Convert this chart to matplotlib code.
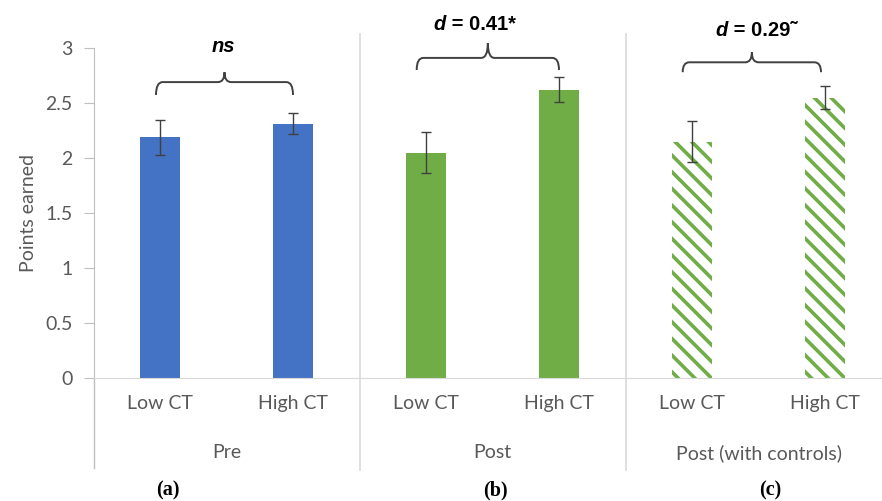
import matplotlib
matplotlib.use('Agg')
import matplotlib.pyplot as plt
import matplotlib.transforms as mtransforms
from matplotlib.path import Path
from matplotlib.patches import PathPatch

groups = ['Pre', 'Post', 'Post (with controls)']
conditions = ['Low CT', 'High CT']
means = [2.19, 2.31, 2.05, 2.62, 2.15, 2.55]
errors = [0.16, 0.095, 0.185, 0.115, 0.185, 0.105]
panel_labels = ['(a)', '(b)', '(c)']
effect_labels = [('', 'ns'), ('d', ' = 0.41*'), ('d', ' = 0.29\u02dc')]

blue = '#4472C4'
green = '#70AD47'
grey_text = '#595959'
line_grey = '#D9D9D9'

plt.rcParams['font.family'] = ['Lato', 'DejaVu Sans']
plt.rcParams['hatch.linewidth'] = 2.6

fig = plt.figure(figsize=(8.82, 5.01), dpi=100)
ax = fig.add_axes([93.5 / 882, 123 / 501, 798 / 882, 330 / 501])

x = list(range(len(means)))
colors = [blue, blue, green, green, 'white', 'white']
hatches = [None, None, None, None, '\\\\', '\\\\']
for xi, m, c, h in zip(x, means, colors, hatches):
    if h:
        ax.bar(xi, m, width=0.3, color='white', edgecolor=green, hatch=h, linewidth=0)
    else:
        ax.bar(xi, m, width=0.3, color=c, linewidth=0)
ax.errorbar(x, means, yerr=errors, fmt='none', ecolor='#404040', elinewidth=1,
            capsize=3.5, capthick=1)

ax.set_xlim(-0.5, 5.5)
ax.set_ylim(0, 3)
ax.set_yticks([0, 0.5, 1, 1.5, 2, 2.5, 3])
ax.set_yticklabels(['0', '0.5', '1', '1.5', '2', '2.5', '3'])
ax.set_xticks(x)
ax.set_xticklabels(conditions * 3)
ax.tick_params(axis='y', direction='out', length=7, color='#BFBFBF', labelcolor=grey_text,
               labelsize=14, pad=8)
ax.tick_params(axis='x', length=0, labelcolor=grey_text, labelsize=14, pad=12)
ax.set_ylabel('Points earned', color=grey_text, fontsize=14, labelpad=6)

for s in ['top', 'right']:
    ax.spines[s].set_visible(False)
ax.spines['left'].set_color('#BFBFBF')
ax.spines['bottom'].set_color(line_grey)

trans = mtransforms.blended_transform_factory(ax.transData, ax.transAxes)
# category separators below the axis, and panel separators through the plot
ax.plot([-0.5, -0.5], [0, -0.273], color='#BFBFBF', lw=1, transform=trans, clip_on=False)
for xs in [1.5, 3.5]:
    ax.plot([xs, xs], [-0.28, 1.042], color=line_grey, lw=1.2, transform=trans, clip_on=False)

for i, g in enumerate(groups):
    ax.text(2 * i + 0.5, -0.227, g, transform=trans, ha='center', va='center',
            color=grey_text, fontsize=14)

for xp, lab in zip([0.06, 2.52, 4.59], panel_labels):
    ax.text(xp, -0.34, lab, transform=trans, ha='center', va='center',
            fontfamily='Liberation Serif', fontweight='bold', fontsize=14.5, color='black')


def draw_brace(ax, x0, x1, y_end, y_line, y_tip):
    xm = (x0 + x1) / 2
    r = 0.05
    verts = [(x0, y_end), (x0, y_line), (x0 + r, y_line),
             (xm - r, y_line),
             (xm, y_line), (xm, y_tip),
             (xm, y_line), (xm + r, y_line),
             (x1 - r, y_line),
             (x1, y_line), (x1, y_end)]
    codes = [Path.MOVETO, Path.CURVE3, Path.CURVE3,
             Path.LINETO,
             Path.CURVE3, Path.CURVE3,
             Path.CURVE3, Path.CURVE3,
             Path.LINETO,
             Path.CURVE3, Path.CURVE3]
    ax.add_patch(PathPatch(Path(verts, codes), fill=False, edgecolor='#404040',
                           lw=1.4, clip_on=False))


braces = [(-0.03, 1.0, 2.573, 2.69, 2.78),
          (1.93, 3.0, 2.80, 2.91, 3.045),
          (3.93, 4.97, 2.78, 2.87, 2.96)]
for b in braces:
    draw_brace(ax, *b)

# effect size labels
label_font = dict(fontfamily='Liberation Sans', fontweight='bold', fontsize=14.5, color='black')
ax.text(0.474, 3.01, 'ns', ha='center', va='center', fontstyle='italic', clip_on=False, **label_font)
for (xa, ya), (first, rest) in zip([(2.15, 3.21), (4.27, 3.16)], effect_labels[1:]):
    t = ax.text(xa, ya, first, ha='right', va='center', fontstyle='italic', clip_on=False, **label_font)
    ax.annotate(rest, xy=(1, 0), xycoords=t, ha='left', va='bottom', **label_font)

fig.savefig('out.png', dpi=100)
